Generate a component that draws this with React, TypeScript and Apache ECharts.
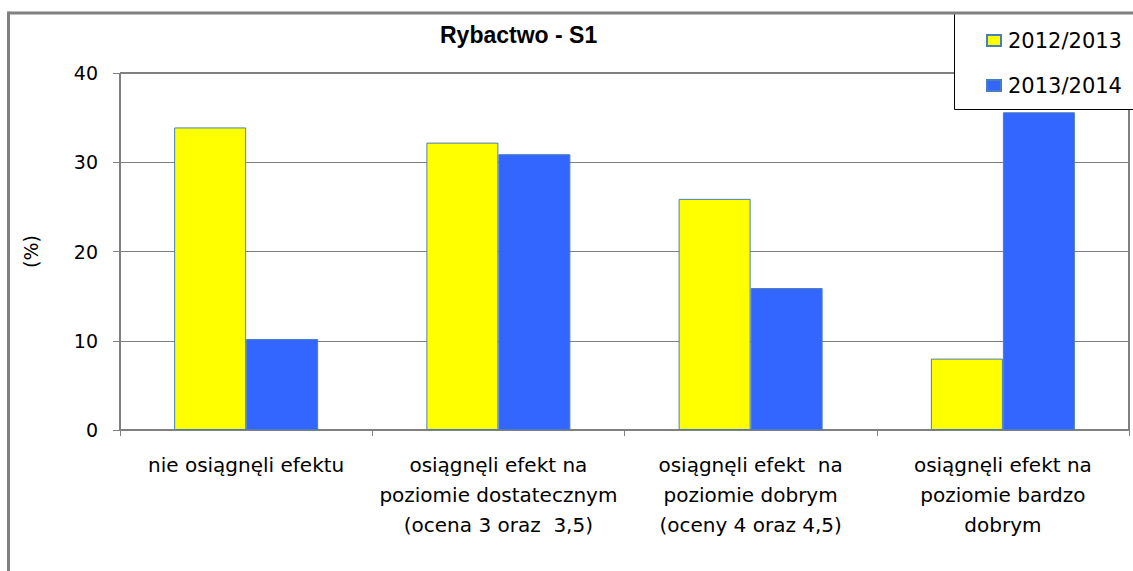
import React, { useEffect, useRef } from "react";
import * as echarts from "echarts";

const categories = [
  "nie osiągnęli efektu",
  "osiągnęli efekt na\npoziomie dostatecznym\n(ocena 3 oraz  3,5)",
  "osiągnęli efekt  na\npoziomie dobrym\n(oceny 4 oraz 4,5)",
  "osiągnęli efekt na\npoziomie bardzo\ndobrym",
];
const series2012 = [33.9, 32.2, 25.9, 8.0];
const series2013 = [10.2, 30.9, 15.9, 35.6];
const seriesNames = ["2012/2013", "2013/2014"];
const yTicks = { min: 0, max: 40, interval: 10 };

const FONT = "'DejaVu Sans', 'Liberation Sans', sans-serif";

export default function App() {
  const ref = useRef<HTMLDivElement>(null);
  useEffect(() => {
    if (!ref.current) return;
    const chart = echarts.init(ref.current, null, { renderer: "svg" });
    chart.setOption({
      animation: false,
      backgroundColor: "#ffffff",
      title: {
        text: "Rybactwo - S1",
        left: 435,
        top: 18,
        textStyle: { fontFamily: "'Liberation Sans', Arial, sans-serif", fontWeight: "bold", fontSize: 23, color: "#000" },
      },
      grid: {
        left: 120,
        top: 73,
        right: 4,
        bottom: 141,
        show: true,
        borderColor: "#000",
        borderWidth: 1,
        backgroundColor: "transparent",
      },
      legend: {
        orient: "vertical",
        left: 981,
        top: 25,
        itemWidth: 14,
        itemHeight: 11,
        itemGap: 24,
        icon: "rect",
        textStyle: { fontFamily: FONT, fontSize: 21, color: "#000", padding: [0, 0, 0, 2] },
        data: seriesNames,
        z: 10,
      },
      graphic: [
        {
          type: "rect",
          z: 8,
          shape: { x: 954.5, y: 12.5, width: 200, height: 97 },
          style: { fill: "#fff", stroke: "#000", lineWidth: 1 },
        },
        {
          type: "line",
          z: 9,
          shape: { x1: 8.5, y1: 13, x2: 1140, y2: 13 },
          style: { stroke: "#808080", lineWidth: 3 },
        },
        {
          type: "line",
          z: 9,
          shape: { x1: 8.5, y1: 11.5, x2: 8.5, y2: 575 },
          style: { stroke: "#808080", lineWidth: 3 },
        },
      ],
      xAxis: {
        type: "category",
        data: categories,
        axisLine: { lineStyle: { color: "#808080", width: 2 } },
        axisTick: { show: true, alignWithLabel: false, length: 6, lineStyle: { color: "#808080" } },
        axisLabel: {
          fontFamily: FONT,
          fontSize: 20,
          color: "#000",
          lineHeight: 30,
          margin: 20,
          interval: 0,
        },
      },
      yAxis: {
        type: "value",
        min: yTicks.min,
        max: yTicks.max,
        interval: yTicks.interval,
        name: "(%)",
        nameLocation: "middle",
        nameGap: 80,
        nameRotate: 90,
        nameTextStyle: { fontFamily: FONT, fontSize: 19, color: "#000" },
        axisLine: { show: true, lineStyle: { color: "#808080", width: 1 } },
        axisTick: { show: true, length: 7, lineStyle: { color: "#808080" } },
        axisLabel: { fontFamily: FONT, fontSize: 19, color: "#000", margin: 22 },
        splitLine: { show: true, lineStyle: { color: "#808080", width: 1 } },
      },
      series: [
        {
          name: seriesNames[0],
          type: "bar",
          data: series2012,
          barWidth: 72,
          barGap: "0%",
          itemStyle: { color: "#FFFF00", borderColor: "#4A7EBB", borderWidth: 1 },
        },
        {
          name: seriesNames[1],
          type: "bar",
          data: series2013,
          barWidth: 72,
          barGap: "0%",
          itemStyle: { color: "#3366FF", borderColor: "#4A7EBB", borderWidth: 1 },
        },
      ],
    });
    return () => chart.dispose();
  }, []);
  return (
    <div
      ref={ref}
      style={{ position: "absolute", left: 0, top: 0, width: 1133, height: 571 }}
    />
  );
}
